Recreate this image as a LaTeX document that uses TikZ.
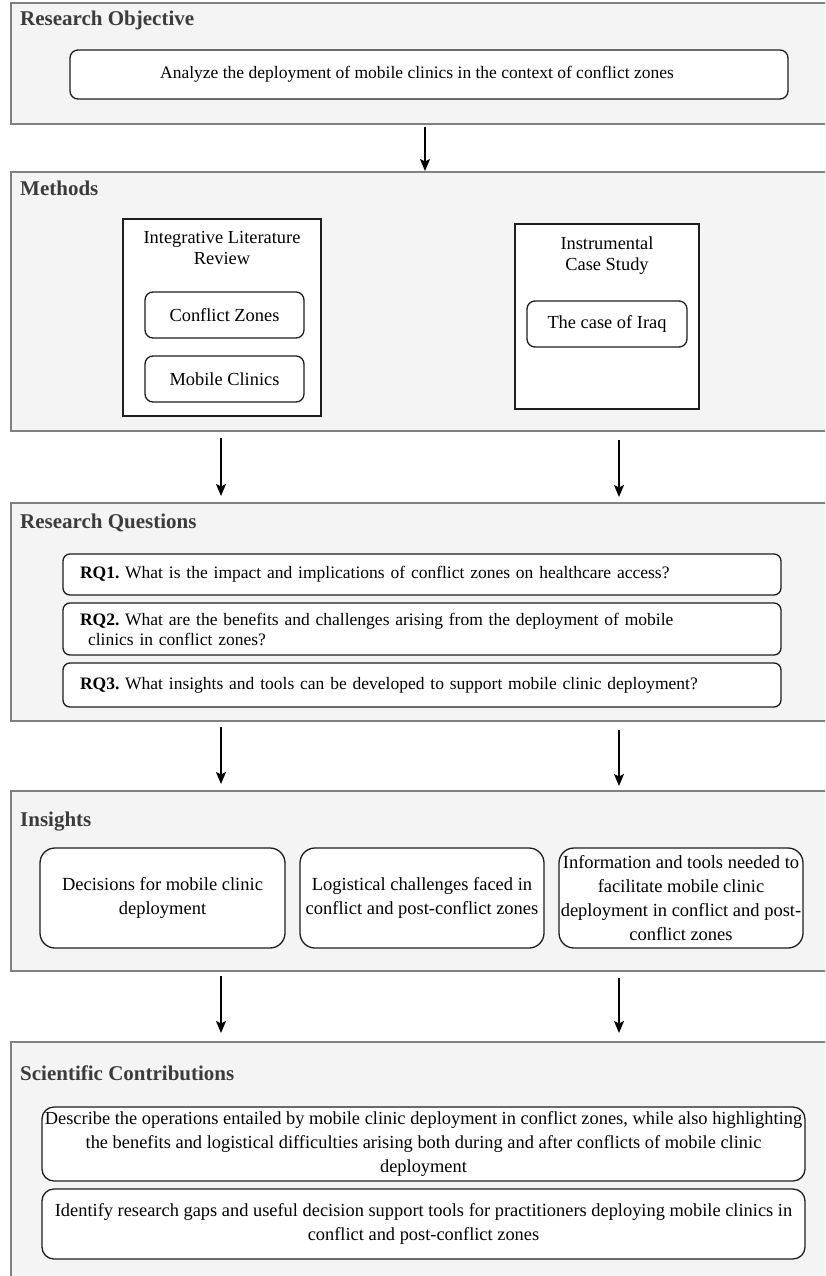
\documentclass[tikz,border=0pt]{standalone}
\usepackage{fontspec}
\setmainfont{Liberation Serif}
\usetikzlibrary{arrows.meta}
\definecolor{panelfill}{HTML}{F4F4F4}
\definecolor{panelline}{HTML}{808080}
\definecolor{headcol}{HTML}{3C3C3C}
\definecolor{boxline}{HTML}{1E1E1E}
\frenchspacing
\begin{document}
\begin{tikzpicture}[x=1pt,y=-1pt,
  panel/.style={draw=panelline, line width=1.6pt, fill=panelfill, minimum width=822pt, inner sep=0pt},
  head/.style={font=\fontsize{21}{25}\selectfont\bfseries, text=headcol, anchor=base west, inner sep=0pt},
  rbox/.style={draw=boxline, line width=1.3pt, fill=white, rounded corners=8pt, inner sep=0pt, font=\fontsize{18.4}{21}\selectfont, align=center},
  sbox/.style={draw=boxline, line width=1.3pt, fill=white, inner sep=0pt},
  lbl/.style={inner sep=0pt, font=\fontsize{18.4}{21}\selectfont, align=center},
  rq/.style={rbox, rounded corners=7pt, align=left, text width=684pt, inner xsep=17pt, inner ysep=0pt, minimum width=718pt, font=\fontsize{17.5}{20}\selectfont},
  ins/.style={rbox, rounded corners=15pt, minimum width=244pt, minimum height=100pt, font=\fontsize{18.5}{24}\selectfont},
  sc/.style={rbox, rounded corners=12pt, minimum width=763pt, font=\fontsize{18.4}{24}\selectfont},
  arr/.style={draw=black, line width=1.4pt, -{Stealth[length=12pt,width=10pt,inset=2.5pt]}}
]
\useasboundingbox (0,0) rectangle (825,1276);
\clip (0,0) rectangle (825,1276);

% Panels
\node[panel, minimum height=121pt] (p1) at (422,63.5) {};
\node[panel, minimum height=259pt] (p2) at (422,301.5) {};
\node[panel, minimum height=218pt] (p3) at (422,612) {};
\node[panel, minimum height=180pt] (p4) at (422,881) {};
\node[panel, minimum height=248pt] (p5) at (422,1166) {};

% Headers
\node[head] (h1) at (20,26) {Research Objective};
\node[head] (h2) at (20,196) {Methods};
\node[head] (h3) at (20,528) {Research Questions};
\node[head] (h4) at (20,826) {Insights};
\node[head] (h5) at (20,1080) {Scientific Contributions};

% Research objective
\node[rbox, minimum width=718pt, minimum height=49pt, font=\fontsize{17.5}{20}\selectfont] (obj) at (429,74.5) {Analyze the deployment of mobile clinics in the context of conflict zones\hspace*{24pt}};

% Methods
\node[sbox, minimum width=198pt, minimum height=197pt] (ilr) at (222,317.5) {};
\node[lbl] (ilrt) at (222,247.5) {Integrative Literature\\Review};
\node[rbox, minimum width=159pt, minimum height=46pt] (cz) at (224.5,315) {Conflict Zones};
\node[rbox, minimum width=159pt, minimum height=46pt] (mc) at (224.5,379) {Mobile Clinics};
\node[sbox, minimum width=184pt, minimum height=185pt] (ics) at (607,316.5) {};
\node[lbl] (icst) at (607,256) {Instrumental\\Case Study};
\node[rbox, minimum width=160pt, minimum height=46pt] (iraq) at (607,324) {The case of Iraq};

% Research questions
\node[rq, minimum height=41pt] (rq1) at (422,574.5) {\textbf{RQ1.} What is the impact and implications of conflict zones on healthcare access?};
\node[rq, minimum height=52pt] (rq2) at (422,629) {\textbf{RQ2.} What are the benefits and challenges arising from the deployment of mobile\\\hspace*{8pt}clinics in conflict zones?};
\node[rq, minimum height=44pt] (rq3) at (422,685) {\textbf{RQ3.} What insights and tools can be developed to support mobile clinic deployment?};

% Insights
\node[ins, minimum width=245pt] (i1) at (162.5,898) {Decisions for mobile clinic\\deployment};
\node[ins] (i2) at (422,898) {Logistical challenges faced in\\conflict and post-conflict zones};
\node[ins] (i3) at (681,898) {Information and tools needed to\\facilitate mobile clinic\\deployment in conflict and post-\\conflict zones};

% Scientific contributions
\node[sc, minimum height=74pt] (s1) at (423.5,1144) {Describe the operations entailed by mobile clinic deployment in conflict zones, while also highlighting\\the benefits and logistical difficulties arising both during and after conflicts of mobile clinic\\deployment};
\node[sc, minimum height=70pt] (s2) at (423.5,1224) {Identify research gaps and useful decision support tools for practitioners deploying mobile clinics in\\conflict and post-conflict zones};

% Arrows
\coordinate (a1s) at (425,127);  \coordinate (a1e) at (425,171);
\coordinate (a2s) at (221,438);  \coordinate (a2e) at (221,496);
\coordinate (a3s) at (619,440);  \coordinate (a3e) at (619,497);
\coordinate (a4s) at (221,727);  \coordinate (a4e) at (221,784);
\coordinate (a5s) at (619,730);  \coordinate (a5e) at (619,786);
\coordinate (a6s) at (221,976);  \coordinate (a6e) at (221,1033);
\coordinate (a7s) at (619,978);  \coordinate (a7e) at (619,1033);
\draw[arr] (a1s) -- (a1e);
\draw[arr] (a2s) -- (a2e);
\draw[arr] (a3s) -- (a3e);
\draw[arr] (a4s) -- (a4e);
\draw[arr] (a5s) -- (a5e);
\draw[arr] (a6s) -- (a6e);
\draw[arr] (a7s) -- (a7e);
\end{tikzpicture}
\end{document}
